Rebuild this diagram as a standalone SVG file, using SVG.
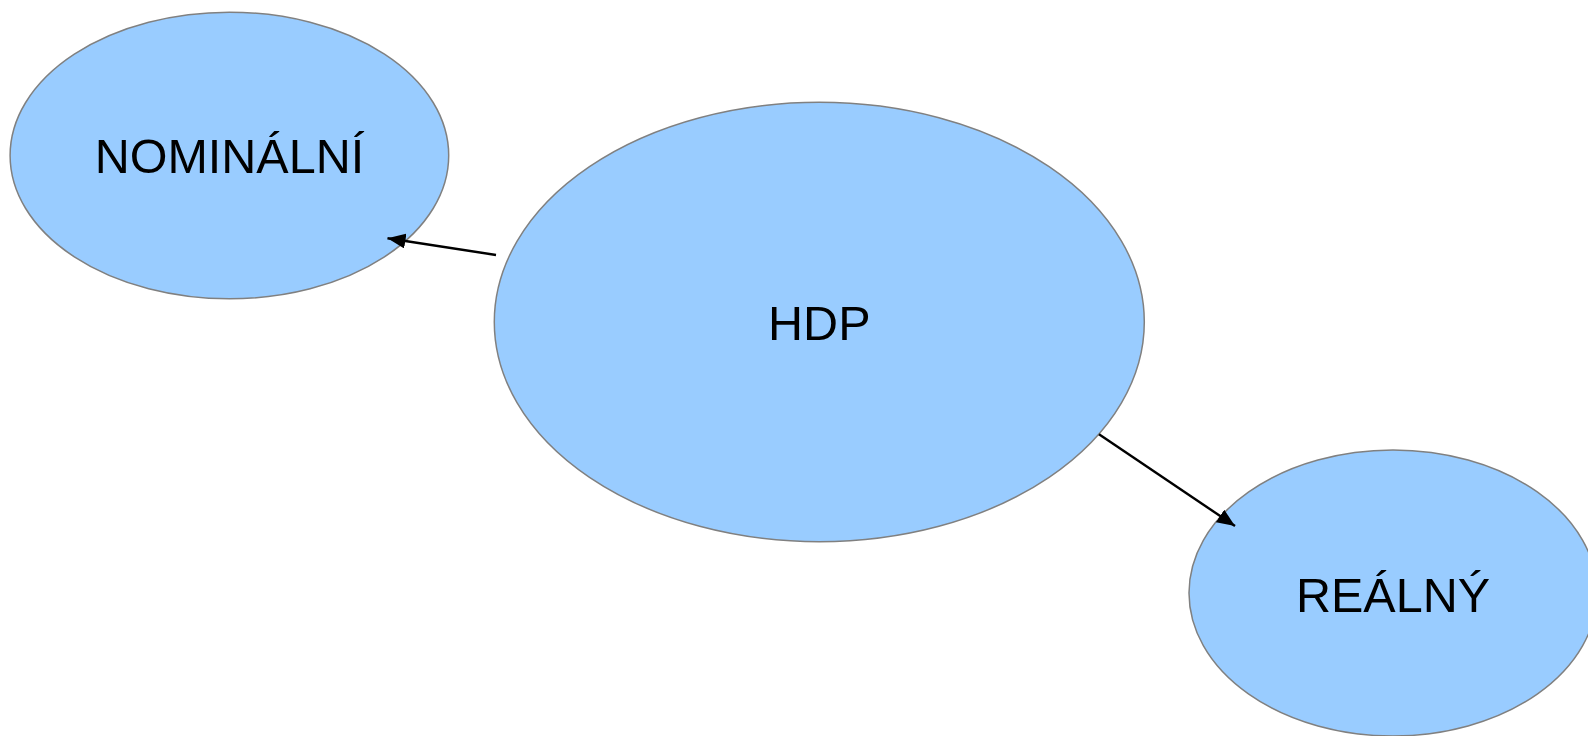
<svg xmlns="http://www.w3.org/2000/svg" width="1588" height="736" viewBox="0 0 1588 736">
<style>
.node{fill:#99ccff;stroke:#808080;stroke-width:1.5}
.lbl{font-family:"Liberation Sans",Arial,sans-serif;font-size:48.5px;fill:#000;text-anchor:middle}
.edge{stroke:#000;stroke-width:2.4;fill:none}
</style>
<defs>
<marker id="arr" markerUnits="userSpaceOnUse" markerWidth="19" markerHeight="15" refX="18" refY="7.5" orient="auto">
<path d="M0,0 L18,7.5 L0,15 Z" fill="#000"/>
</marker>
</defs>
<rect width="1588" height="736" fill="#fff"/>
<g id="nominalni">
<ellipse class="node" cx="229.4" cy="155.5" rx="219.3" ry="143.3"/>
<text class="lbl" x="229.4" y="173">NOMINÁLNÍ</text>
</g>
<g id="hdp">
<ellipse class="node" cx="819.3" cy="322" rx="325" ry="219.7"/>
<text class="lbl" x="819.3" y="340">HDP</text>
</g>
<g id="realny">
<ellipse class="node" cx="1393" cy="593" rx="204" ry="143"/>
<text class="lbl" x="1393" y="612">REÁLNÝ</text>
</g>
<g id="connectors">
<line class="edge" x1="496" y1="255" x2="387.5" y2="238.3" marker-end="url(#arr)"/>
<line class="edge" x1="1099" y1="434.3" x2="1235" y2="526" marker-end="url(#arr)"/>
</g>
</svg>
